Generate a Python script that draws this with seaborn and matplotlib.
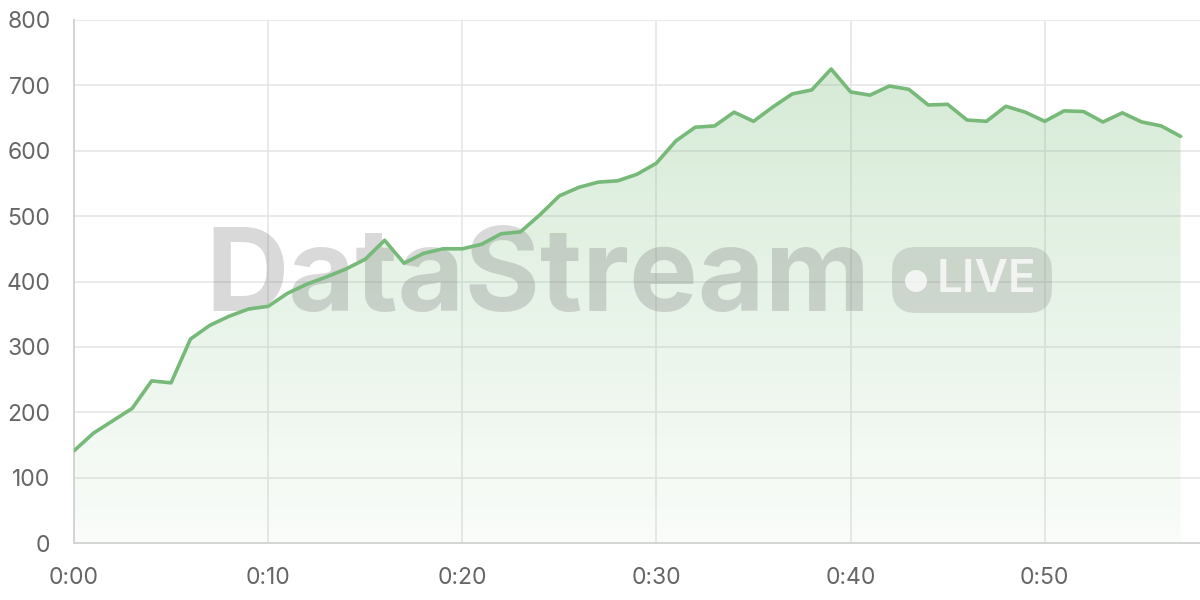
import numpy as np
import pandas as pd
import matplotlib
matplotlib.use("Agg")
import matplotlib.pyplot as plt
import seaborn as sns
from matplotlib.colors import LinearSegmentedColormap
from matplotlib.patches import FancyBboxPatch, Circle
from matplotlib.transforms import IdentityTransform

minutes = list(range(58))
values = [141, 168, 187, 206, 248, 245, 312, 333, 347, 358,
          362, 382, 396, 407, 419, 434, 463, 428, 443, 450,
          450, 457, 473, 476, 502, 531, 544, 552, 554, 564,
          581, 615, 636, 638, 659, 645, 667, 687, 693, 725,
          690, 685, 699, 694, 670, 671, 647, 645, 668, 659,
          645, 661, 660, 644, 658, 644, 638, 622]
x_ticks = [0, 10, 20, 30, 40, 50]
x_tick_labels = ["0:00", "0:10", "0:20", "0:30", "0:40", "0:50"]
y_ticks = [0, 100, 200, 300, 400, 500, 600, 700, 800]

df = pd.DataFrame({"minute": minutes, "value": values})

sns.set_theme(style="white")
plt.rcParams["font.family"] = ["Inter", "DejaVu Sans"]

fig = plt.figure(figsize=(12, 6), dpi=100)
ax = fig.add_axes([74 / 1200, 57 / 600, 1126 / 1200, 523 / 600])

line_color = "#76b978"
grid_color = "#e6e6e6"

# gradient fill under line
poly = ax.fill_between(df["minute"], df["value"], 0, color="none", lw=0)
cmap = LinearSegmentedColormap.from_list(
    "g", [(0.0, (0.46, 0.73, 0.47, 0.04)), (1.0, (0.46, 0.73, 0.47, 0.30))])
grad = np.linspace(0, 1, 256).reshape(-1, 1)
im = ax.imshow(grad, extent=[0, 58, 0, 730], origin="lower", aspect="auto",
               cmap=cmap, zorder=1)
path = poly.get_paths()[0]
im.set_clip_path(path, transform=ax.transData)

sns.lineplot(data=df, x="minute", y="value", ax=ax, color=line_color,
             lw=2.6, zorder=4)

ax.set_xlim(0, 58)
ax.set_ylim(0, 800)
ax.set_xticks(x_ticks)
ax.set_xticklabels(x_tick_labels)
ax.set_yticks(y_ticks)
ax.set_xlabel("")
ax.set_ylabel("")
ax.grid(True, color=grid_color, lw=1.2, zorder=0)
ax.set_axisbelow(True)
for s in ["top", "right"]:
    ax.spines[s].set_visible(False)
for s in ["left", "bottom"]:
    ax.spines[s].set_color("#d4d4d4")
    ax.spines[s].set_linewidth(1.4)
ax.tick_params(axis="both", length=11, width=1.2, color=grid_color,
               labelsize=16.5, labelcolor="#666666", pad=6)

# watermark
wm_gray = (0.45, 0.45, 0.45)
ax.text(0.117, 0.5, "DataStream", transform=ax.transAxes, fontsize=83,
        fontweight="bold", color=wm_gray, alpha=0.27,
        ha="left", va="center", zorder=3)
badge = FancyBboxPatch((892, 287), 160, 66,
                       boxstyle="round,pad=0,rounding_size=24",
                       transform=IdentityTransform(), fc=wm_gray, alpha=0.22,
                       ec="none", zorder=3)
ax.add_artist(badge)
ax.add_artist(Circle((916, 319), 11, transform=IdentityTransform(),
                     fc="white", alpha=0.75, ec="none", zorder=3))
fig.text(937 / 1200, 320 / 600, "LIVE", fontsize=33, fontweight="semibold",
         color="white", alpha=0.75, ha="left", va="center", zorder=5)

fig.savefig("out.png", dpi=100, facecolor="white")
